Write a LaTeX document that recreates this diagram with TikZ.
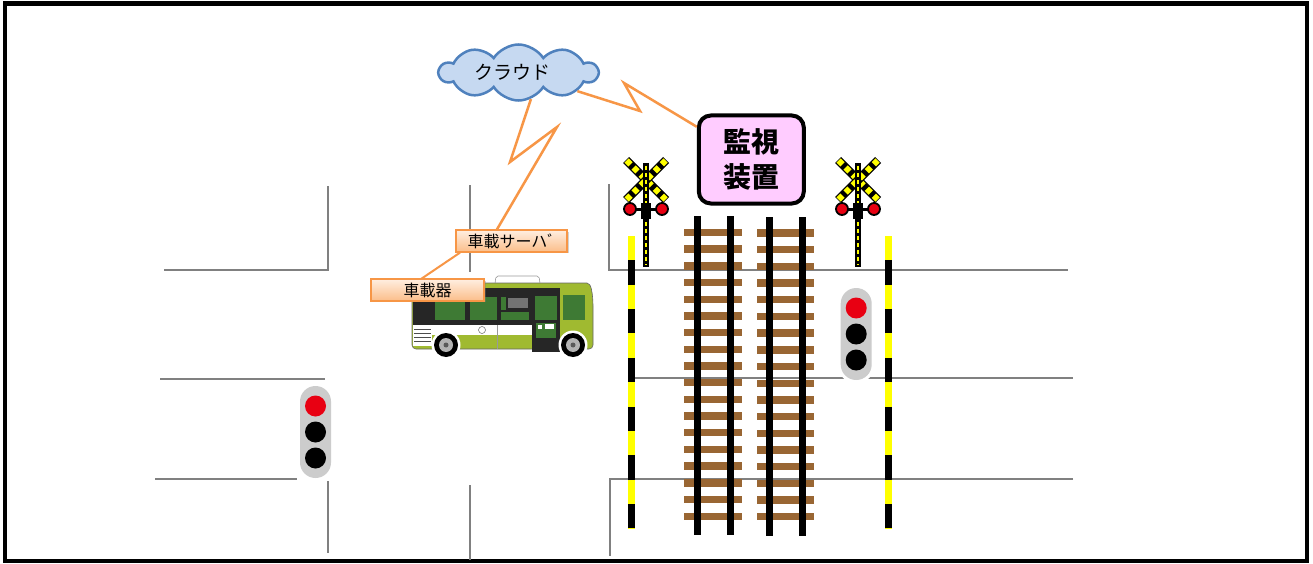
\documentclass[tikz,border=0pt]{standalone}
\usepackage{fontspec}
\newfontfamily\cjk{Noto Sans CJK JP}
\usetikzlibrary{shapes.symbols,shadows}

\definecolor{roadgray}{RGB}{128,128,128}
\definecolor{cloudfill}{RGB}{198,217,241}
\definecolor{cloudedge}{RGB}{79,129,189}
\definecolor{linkorange}{RGB}{247,150,70}
\definecolor{labeltop}{RGB}{255,238,224}
\definecolor{labelbottom}{RGB}{251,190,138}
\definecolor{monitorpink}{RGB}{255,204,255}
\definecolor{sleeper}{RGB}{153,102,51}
\definecolor{signalred}{RGB}{232,0,18}
\definecolor{housing}{RGB}{204,204,204}
\definecolor{buslime}{RGB}{160,186,48}
\definecolor{buswin}{RGB}{62,122,52}
\definecolor{busdark}{RGB}{38,38,38}
\definecolor{warnyellow}{RGB}{255,255,0}

\tikzset{
  road/.style={draw=roadgray, line width=1.5pt},
  link/.style={draw=linkorange, line width=2.5pt, line join=miter},
  tag/.style={draw=linkorange, line width=1.8pt, top color=labeltop,
    bottom color=labelbottom, inner sep=0pt, minimum height=21.5pt,
    font=\cjk\fontsize{16}{18}\selectfont,
    drop shadow={shadow xshift=1.5pt, shadow yshift=-1.5pt, opacity=0.35}},
  rail/.style={line width=7pt, black},
  barrierpole/.style={line width=7pt},
  % road traffic signal: grey capsule with one red and two dark lamps
  trafficlight/.pic={
    \fill[white, rounded corners=18pt] (-18.5,-49) rectangle (18.5,49);
    \fill[housing, rounded corners=15.5pt] (-15.5,-46) rectangle (15.5,46);
    \fill[signalred] (0,-26) circle[radius=10.5pt];
    \fill[black] (0,0) circle[radius=10.5pt];
    \fill[black] (0,26) circle[radius=10.5pt];
  },
  % level-crossing warning signal: crossbuck, post and twin red lamps
  crossingsignal/.pic={
    \foreach \s in {1,-1}{
      \draw[line width=8.5pt, black] (-20,-20*\s) -- (20,20*\s);
      \draw[warnyellow, line width=6pt, dash pattern=on 5.5pt off 4.5pt]
        (-19.5,-19.5*\s) -- (19.5,19.5*\s);
    }
    \draw[line width=6pt, black] (0,-17) -- (0,87);
    \draw[warnyellow, line width=2pt, dash pattern=on 4pt off 3pt] (0,-14) -- (0,85);
    \draw[line width=3pt, black] (-16,29) -- (16,29);
    \fill[black] (-5,23) rectangle (5,39);
    \foreach \x in {-16,16}
      \filldraw[fill=signalred, draw=black, line width=1.8pt] (\x,29) circle[radius=6pt];
  }
}

\begin{document}
\begin{tikzpicture}[x=1pt,y=-1pt]
\useasboundingbox (0,0) rectangle (1313,564);
\fill[white] (0,0) rectangle (1313,564);

% outer frame
\draw[line width=4.5pt, black] (5,3.5) rectangle (1307,561);

% streets
\draw[road] (328,186) -- (328,270) -- (164,270);
\draw[road] (470,185) -- (470,272);
\draw[road] (160,379) -- (325,379);
\draw[road] (155,479) -- (297,479);
\draw[road] (328,481) -- (328,553);
\draw[road] (470,485) -- (470,560);
\draw[road] (609,184) -- (609,270) -- (1068,270);
\draw[road] (631,378) -- (1073,378);
\draw[road] (1073,479) -- (610,479) -- (610,556);

% railway tracks: sleepers, then rails
\foreach \i in {0,...,17}{
  \fill[sleeper] (684,{232.5+16.69*\i-3.7}) rectangle (742,{232.5+16.69*\i+3.7});
  \fill[sleeper] (757,{233+16.69*\i-3.7}) rectangle (814,{233+16.69*\i+3.7});
}
\draw[rail] (697.5,216) -- (697.5,535);
\draw[rail] (730,216) -- (730,535);
\draw[rail] (769.5,217) -- (769.5,536);
\draw[rail] (802,217) -- (802,536);

% crossing barrier poles (yellow and black bands)
\foreach \x in {631,888.5}{
  \draw[barrierpole, black] (\x,236) -- (\x,528.5);
  \draw[barrierpole, warnyellow, dash pattern=on 24.37pt off 24.37pt] (\x,236) -- (\x,528.5);
}

% road traffic signals
\pic at (315.5,432) {trafficlight};
\pic at (856.2,334) {trafficlight};

% level-crossing signals
\pic at (646,180) {crossingsignal};
\pic at (858,180) {crossingsignal};

% monitoring unit
\node[draw=black, line width=4pt, rounded corners=12pt, fill=monitorpink,
      minimum width=105pt, minimum height=88pt, inner sep=0pt, align=center,
      font=\cjk\bfseries\fontsize{28}{35}\selectfont]
  (monitor) at (751.3,159.5) {監視\\装置};

% cloud
\node[cloud, cloud puffs=10, cloud puff arc=115, aspect=2.8, draw=cloudedge,
      fill=cloudfill, line width=2.5pt, minimum width=158pt, minimum height=56pt,
      inner sep=0pt, font=\cjk\fontsize{19}{21}\selectfont]
  (cloud) at (518.5,72.5) {\hspace*{-12pt}クラウド};

% in-vehicle units
\node[tag, minimum width=111pt] (server) at (511.5,241) {車載サーハﾞ};

% wireless links
\draw[link] (cloud) -- (640,111) -- (624,83) -- (monitor);
\draw[link] (cloud.-65) -- (510,162) -- (557,127) -- ([xshift=-14.5pt]server.north);

% bus
\begin{scope}
  \fill[white, draw=black!40, line width=.6pt, rounded corners=2pt]
    (495,283.5) -- (496,276) -- (539,276) -- (540,283.5);
  \filldraw[fill=buslime, draw=black!60, line width=.6pt, rounded corners=4pt]
    (412,283) -- (583,283) to[out=0,in=95] (593,302) -- (593,349) -- (412,349) -- cycle;
  \fill[busdark] (412.5,288) rectangle (560,325);
  \fill[busdark] (532,288) rectangle (560,352);
  \fill[white] (432,325) rectangle (532,335);
  \fill[white] (413,325) rectangle (432,346);
  \foreach \yy in {329,333,337,341} \draw[black!70, line width=.8pt] (414,\yy) -- (431,\yy);
  \fill[buswin] (435,297) rectangle (465,320);
  \fill[buswin] (470,297) rectangle (497,320);
  \fill[buswin] (501,297) rectangle (506,310);
  \fill[black!55] (508,298) rectangle (528,308);
  \fill[buswin] (501,312) rectangle (529,320);
  \fill[buswin] (535,296) rectangle (557,320);
  \fill[buswin] (536,323) rectangle (556,338);
  \fill[white] (538,325) rectangle (542,329);
  \fill[white] (545,324) rectangle (554,329);
  \fill[buswin] (563,295) rectangle (585,320);
  \draw[black!60, line width=.5pt] (482,330) circle[radius=3.5pt];
  \draw[black!40, line width=.5pt] (497,325) -- (497,349);
  \foreach \wx in {446,573}{
    \fill[white] (\wx,345) circle[radius=14.5pt];
    \fill[black] (\wx,345) circle[radius=12pt];
    \fill[black!30] (\wx,345) circle[radius=7pt];
    \fill[black!65] (\wx,345) circle[radius=2.5pt];
  }
\end{scope}

\coordinate (devicespot) at (427.5,290);
\draw[draw=linkorange, line width=2pt] (421,279) -- ([xshift=-51.5pt]server.south);
\node[tag, minimum width=113pt] (device) at (devicespot) {車載器};
\end{tikzpicture}
\end{document}
